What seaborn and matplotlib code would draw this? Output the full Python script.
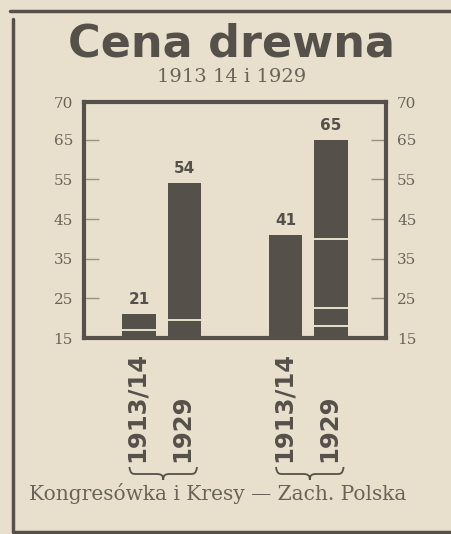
import numpy as np
import pandas as pd
import matplotlib
matplotlib.use("Agg")
import matplotlib.pyplot as plt
from matplotlib.path import Path
from matplotlib.patches import PathPatch
from matplotlib.lines import Line2D
import seaborn as sns

# Data
regions = ["Kongresówka i Kresy", "Zach. Polska"]
years = ["1913/14", "1929"]
totals = [21, 54, 41, 65]            # K 1913/14, K 1929, Z 1913/14, Z 1929
splits = [[17], [19.5], [], [18, 22.5, 40]]   # inner segment boundaries
y_ticks = [15, 25, 35, 45, 55, 65]
y_top_label = "70"
title = "Cena drewna"
subtitle = "1913 14 i 1929"
footer = "Kongresówka i Kresy — Zach. Polska"

df = pd.DataFrame({
    "region": [r for r in regions for _ in years],
    "year": [y for _ in regions for y in years],
    "price": totals,
})
split_map = {(r, y): s for (r, y), s in zip(zip(df.region, df.year), splits)}

# Style
BG = "#e8e0cd"
INK = "#55504a"
TXT = "#6a6359"
W, H, DPI = 451, 534, 100

sns.set_style("white")
plt.rcParams["font.family"] = ["DejaVu Serif"]

fig = plt.figure(figsize=(W / DPI, H / DPI), dpi=DPI, facecolor=BG)


def fx(px):
    return px / W


def fy(py):
    return 1 - py / H


ax = fig.add_axes([fx(84), fy(338), fx(386) - fx(84), fy(102) - fy(338)])
ax.set_facecolor(BG)

sns.barplot(data=df, x="region", y="price", hue="year", order=regions,
            hue_order=years, palette=[INK, INK], width=0.62, gap=0.27,
            legend=False, ax=ax, saturation=1, edgecolor="none")

y_top = 74.5
ax.set_ylim(15, y_top)
ax.set_xlim(-0.53, 1.53)
ax.set_yticks(y_ticks + [y_top])
ax.set_yticklabels([str(t) for t in y_ticks] + [y_top_label])
ax.tick_params(axis="y", direction="in", length=11, width=1, color="#9a9284",
               labelsize=11, labelcolor=TXT, left=True, right=True,
               labelleft=True, labelright=True, pad=8)
ax.tick_params(axis="x", bottom=False, labelbottom=False)
ax.set_xlabel("")
ax.set_ylabel("")
for sp in ax.spines.values():
    sp.set_visible(True)
    sp.set_color(INK)
    sp.set_linewidth(3)

# segment separators and labels
for hi, cont in enumerate(ax.containers):
    ax.bar_label(cont, fmt="%d", padding=5, fontsize=11, color=INK,
                 fontweight="bold", family="DejaVu Sans")
    for ri, bar in enumerate(cont):
        x0 = bar.get_x()
        w = bar.get_width()
        for s in split_map[(regions[ri], years[hi])]:
            ax.hlines(s, x0, x0 + w, color=BG, linewidth=1.4)

# rotated year labels under the bars, braces
to_px = lambda xd: (ax.transData.transform((xd, 15))[0]) * W / fig.bbox.width
for ri in range(len(regions)):
    xs = []
    for hi, cont in enumerate(ax.containers):
        bar = cont[ri]
        xc = to_px(bar.get_x() + bar.get_width() / 2)
        xs.append((to_px(bar.get_x()), to_px(bar.get_x() + bar.get_width())))
        fig.text(fx(xc - 2), fy(462), years[hi], rotation=90, ha="center",
                 va="bottom", fontsize=17.5, fontweight="bold",
                 family="DejaVu Sans", color=INK)
    x0 = xs[0][0] + 7
    x1 = xs[-1][1] - 4
    xm = (x0 + x1) / 2
    yt, q, h, r = 467, 7, 13, 7
    pts = [(x0, yt),
           (x0 + 1, yt + q), (x0 + 3, yt + q), (x0 + r, yt + q),
           (xm - r, yt + q),
           (xm - 2, yt + q), (xm, yt + q + 1), (xm, yt + h),
           (xm, yt + q + 1), (xm + 2, yt + q), (xm + r, yt + q),
           (x1 - r, yt + q),
           (x1 - 3, yt + q), (x1 - 1, yt + q), (x1, yt)]
    codes = [Path.MOVETO] + [Path.CURVE4] * 3 + [Path.LINETO] + \
        [Path.CURVE4] * 6 + [Path.LINETO] + [Path.CURVE4] * 3
    path = Path([(fx(a), fy(b)) for a, b in pts], codes)
    fig.add_artist(PathPatch(path, transform=fig.transFigure, fill=False,
                             edgecolor=INK, linewidth=1.3))

# titles and footer
fig.text(fx(232), fy(44), title, ha="center", va="center", fontsize=32,
         fontweight="bold", family="DejaVu Sans", color=INK)
fig.text(fx(232), fy(77), subtitle, ha="center", va="center", fontsize=14,
         color=TXT)
fig.text(fx(218), fy(493), footer, ha="center", va="center", fontsize=14.5,
         color=TXT)

# page frame
fig.add_artist(Line2D([fx(10), fx(451)], [fy(11), fy(11)], color=INK,
                      linewidth=2.5, transform=fig.transFigure))
fig.add_artist(Line2D([fx(13), fx(13)], [fy(19), fy(531)], color=INK,
                      linewidth=2.5, transform=fig.transFigure))
fig.add_artist(Line2D([fx(13), fx(451)], [fy(532), fy(532)], color=INK,
                      linewidth=2.5, transform=fig.transFigure))

fig.savefig("out.png", dpi=DPI, facecolor=BG)
